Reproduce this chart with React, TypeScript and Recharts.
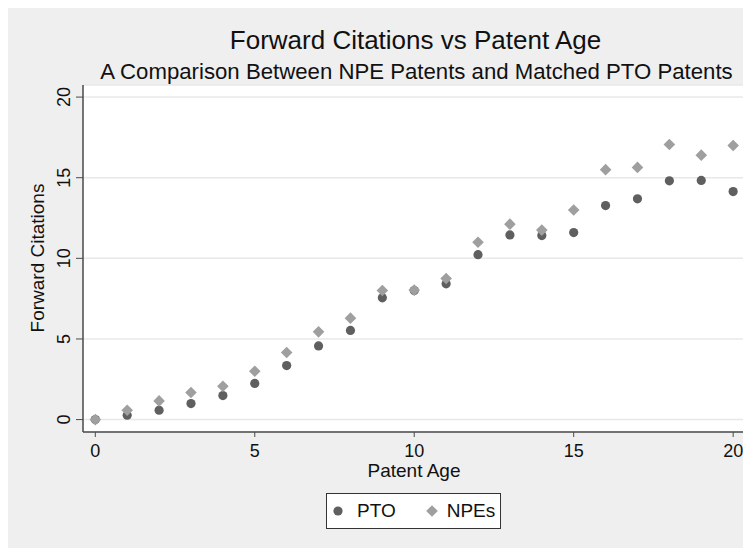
import React from 'react';
import { ScatterChart, Scatter, XAxis, YAxis, CartesianGrid } from 'recharts';

const ages = [0, 1, 2, 3, 4, 5, 6, 7, 8, 9, 10, 11, 12, 13, 14, 15, 16, 17, 18, 19, 20];
const ptoValues = [0, 0.27, 0.58, 0.99, 1.49, 2.24, 3.35, 4.57, 5.53, 7.55, 8.0, 8.42, 10.23, 11.45, 11.41, 11.6, 13.27, 13.69, 14.81, 14.83, 14.14];
const npeValues = [0, 0.58, 1.16, 1.68, 2.07, 3.0, 4.16, 5.44, 6.29, 8.01, 8.03, 8.75, 11.0, 12.12, 11.75, 13.0, 15.5, 15.64, 17.06, 16.4, 17.0];
const xTicks = [0, 5, 10, 15, 20];
const yTicks = [0, 5, 10, 15, 20];
const seriesNames = ['PTO', 'NPEs'];

const ptoData = ages.map((a, i) => ({ x: a, y: ptoValues[i] }));
const npeData = ages.map((a, i) => ({ x: a, y: npeValues[i] }));

const FONT = '"Liberation Sans", Arial, Helvetica, sans-serif';
const PTO_COLOR = '#5f5f5f';
const NPE_COLOR = '#9f9f9f';
const AXIS_COLOR = '#4a4a4a';

const CircleShape = (props: any) => {
  const { cx, cy } = props;
  if (cx == null || cy == null) return null;
  return <circle cx={cx} cy={cy} r={4.6} fill={PTO_COLOR} />;
};

const DiamondShape = (props: any) => {
  const { cx, cy } = props;
  if (cx == null || cy == null) return null;
  const h = 5.8;
  return <polygon points={`${cx},${cy - h} ${cx + h},${cy} ${cx},${cy + h} ${cx - h},${cy}`} fill={NPE_COLOR} />;
};

const YTick = (props: any) => {
  const { x, y, payload } = props;
  const tx = x - 6;
  return (
    <text x={tx} y={y} transform={`rotate(-90 ${tx} ${y})`} textAnchor="middle" fontSize={18} fontFamily={FONT} fill="#111">
      {payload.value}
    </text>
  );
};

const XTick = (props: any) => {
  const { x, y, payload } = props;
  return (
    <text x={x} y={y + 17.5} textAnchor="middle" fontSize={18} fontFamily={FONT} fill="#111">
      {payload.value}
    </text>
  );
};

export default function App() {
  return (
    <div style={{ position: 'relative', width: 743, height: 543, marginTop: -3, background: '#efefef', fontFamily: FONT }}>
      <div style={{ position: 'absolute', left: 0, width: 815, top: 20, textAlign: 'center', fontSize: 26, color: '#111', whiteSpace: 'nowrap' }}>
        Forward Citations vs Patent Age
      </div>
      <div style={{ position: 'absolute', left: 0, width: 817, top: 54, textAlign: 'center', fontSize: 22.2, color: '#111', whiteSpace: 'nowrap' }}>
        A Comparison Between NPE Patents and Matched PTO Patents
      </div>
      <div style={{ position: 'absolute', left: 0, width: 812, top: 455, textAlign: 'center', fontSize: 19, color: '#111', whiteSpace: 'nowrap' }}>
        Patent Age
      </div>
      <div
        style={{
          position: 'absolute',
          left: 30 - 100,
          top: 253 - 12,
          width: 200,
          height: 24,
          lineHeight: '24px',
          textAlign: 'center',
          fontSize: 19,
          color: '#111',
          whiteSpace: 'nowrap',
          transform: 'rotate(-90deg)',
        }}
      >
        Forward Citations
      </div>
      <ScatterChart width={743} height={543} margin={{ top: 80, right: 7, bottom: 86, left: 15 }}>
        <CartesianGrid horizontal vertical={false} stroke="#e8e8e8" strokeWidth={1.5} fill="#ffffff" fillOpacity={1} />
        <XAxis
          type="number"
          dataKey="x"
          domain={[-0.386, 20.34]}
          ticks={xTicks}
          allowDataOverflow
          height={30}
          tickSize={5}
          stroke={AXIS_COLOR}
          axisLine={{ stroke: AXIS_COLOR, strokeWidth: 1.5 }}
          tickLine={{ stroke: AXIS_COLOR, strokeWidth: 1 }}
          tick={<XTick />}
          interval={0}
        />
        <YAxis
          type="number"
          dataKey="y"
          domain={[-0.77, 20.75]}
          ticks={yTicks}
          allowDataOverflow
          width={60}
          tickSize={7}
          tickMargin={0}
          stroke={AXIS_COLOR}
          axisLine={{ stroke: AXIS_COLOR, strokeWidth: 1.5 }}
          tickLine={{ stroke: AXIS_COLOR, strokeWidth: 1 }}
          tick={<YTick />}
          interval={0}
        />
        <Scatter name={seriesNames[0]} data={ptoData} shape={<CircleShape />} isAnimationActive={false} />
        <Scatter name={seriesNames[1]} data={npeData} shape={<DiamondShape />} isAnimationActive={false} />
      </ScatterChart>
      <div
        style={{
          position: 'absolute',
          left: 318,
          top: 488,
          width: 173,
          height: 34,
          border: '1px solid #333',
          background: '#fff',
          display: 'flex',
          alignItems: 'center',
          fontSize: 19,
          color: '#111',
        }}
      >
        <svg width={24} height={20} style={{ marginLeft: 4 }}>
          <circle cx={7} cy={10} r={4.6} fill={PTO_COLOR} />
        </svg>
        <span style={{ marginLeft: 2 }}>{seriesNames[0]}</span>
        <svg width={24} height={20} style={{ marginLeft: 24 }}>
          <polygon points="12,4.2 17.8,10 12,15.8 6.2,10" fill={NPE_COLOR} />
        </svg>
        <span style={{ marginLeft: 3 }}>{seriesNames[1]}</span>
      </div>
    </div>
  );
}
